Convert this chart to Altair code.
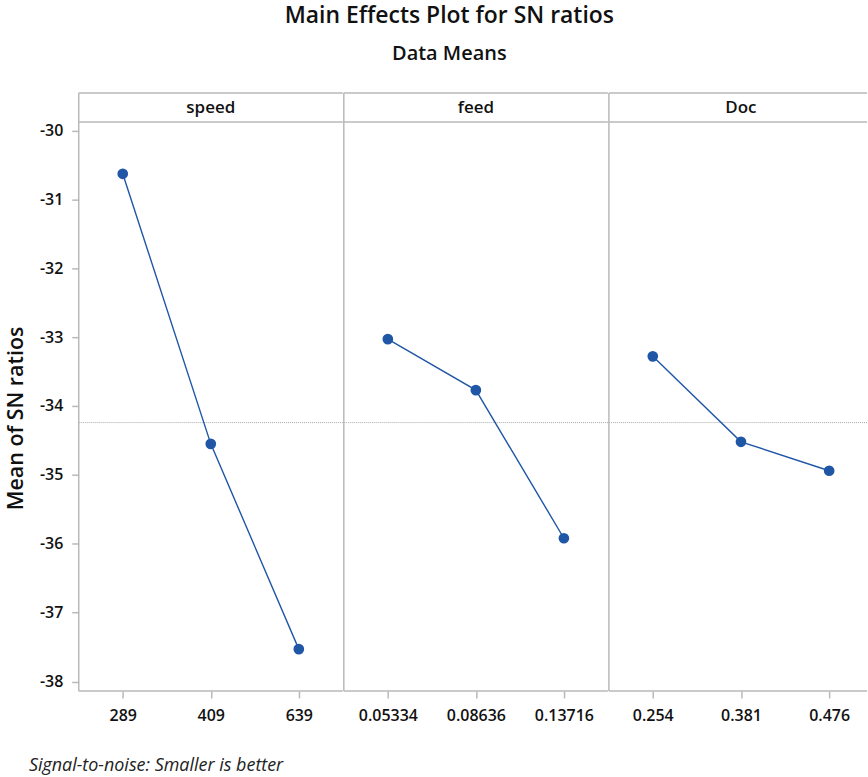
import altair as alt
import pandas as pd

# Factor names and their levels (tick labels), in plotting order
factors = ["speed", "feed", "Doc"]
speed_levels = ["289", "409", "639"]
feed_levels = ["0.05334", "0.08636", "0.13716"]
doc_levels = ["0.254", "0.381", "0.476"]

# Mean S/N ratio at each level
speed_sn = [-30.63, -34.55, -37.53]
feed_sn = [-33.03, -33.77, -35.92]
doc_sn = [-33.28, -34.52, -34.94]

levels_by_factor = {"speed": speed_levels, "feed": feed_levels, "Doc": doc_levels}
sn_by_factor = {"speed": speed_sn, "feed": feed_sn, "Doc": doc_sn}

rows = []
for f in factors:
    for i, (lvl, v) in enumerate(zip(levels_by_factor[f], sn_by_factor[f])):
        rows.append({"factor": f, "level": lvl, "order": i, "sn": v})
df = pd.DataFrame(rows)
grand_mean = df["sn"].mean()

BLUE = "#1f56a5"
GRID = "#b9b9b9"
FONT = "Open Sans"
H = 600
STRIP = 29
Y_MIN, Y_MAX = -38.137, -29.457

# panel widths and point-scale padding/alignment for each panel
widths = {"speed": 265, "feed": 265, "Doc": 259}
x_scales = {
    "speed": alt.Scale(padding=0.5),
    "feed": alt.Scale(padding=0.5),
    "Doc": alt.Scale(padding=0.4633, align=0.537),
}


def vrule(x, w):
    return alt.Chart(pd.DataFrame({"a": [0]})).mark_rule(
        color=GRID, strokeWidth=1.5).encode(
        x=alt.value(x), y=alt.value(0), y2=alt.value(H))


def hrule(y, w):
    return alt.Chart(pd.DataFrame({"a": [0]})).mark_rule(
        color=GRID, strokeWidth=1.5).encode(
        x=alt.value(0), x2=alt.value(w), y=alt.value(y))


def panel(factor, first):
    W = widths[factor]
    d = df[df["factor"] == factor]
    if first:
        yaxis = alt.Axis(values=[-30, -31, -32, -33, -34, -35, -36, -37, -38],
                         labelExpr="datum.value < 0 ? '-' + format(-datum.value, 'd') : format(datum.value, 'd')",
                         title="Mean of SN ratios", titleFontSize=21.5,
                         titleFontWeight=600, titleFont=FONT, titleColor="#111",
                         titleX=-62, titleY=326, titleBaseline="middle",
                         labelPadding=9)
    else:
        yaxis = None
    y = alt.Y("sn:Q", scale=alt.Scale(domain=[Y_MIN, Y_MAX], nice=False, zero=False),
              axis=yaxis)
    x = alt.X("level:N", sort=levels_by_factor[factor], title=None,
              scale=x_scales[factor],
              axis=alt.Axis(labelAngle=0, labelPadding=10))

    base = alt.Chart(d)
    line = base.mark_line(color=BLUE, strokeWidth=1.4).encode(x=x, y=y)
    pts = base.mark_point(filled=True, shape="circle", size=115, color=BLUE,
                          opacity=1).encode(x=x, y=y)
    mean = alt.Chart(pd.DataFrame({"sn": [grand_mean]})).mark_rule(
        color="#a8a8a8", strokeWidth=1, strokeDash=[1, 1]).encode(y=y)
    header = alt.Chart(pd.DataFrame({"factor": [factor]})).mark_text(
        font=FONT, fontSize=17, fontWeight=600, color="#111",
        baseline="middle", align="center").encode(
        text="factor:N", x=alt.value(W / 2 if factor != "Doc" else 132.5),
        y=alt.value(STRIP / 2 + 0.5))
    # panel frame: left edge, top, strip divider, bottom
    layers = [mean, vrule(0, W), hrule(0, W), hrule(STRIP, W), hrule(H, W), header, line, pts]
    if first:
        foot = alt.Chart(pd.DataFrame({"t": ["Signal-to-noise: Smaller is better"]})).mark_text(
            font=FONT, fontSize=18, fontStyle="italic", color="#222",
            align="left", baseline="middle").encode(
            text="t:N", x=alt.value(-50), y=alt.value(H + 75))
        layers.append(foot)
    return alt.layer(*layers).properties(width=W, height=H)


chart = alt.hconcat(*[panel(f, i == 0) for i, f in enumerate(factors)], spacing=-1.5).properties(
    title=alt.TitleParams("Main Effects Plot for SN ratios", subtitle="Data Means",
                          font=FONT, fontSize=23, fontWeight=600, color="#111",
                          subtitleFont=FONT, subtitleFontSize=20, subtitleFontWeight=600,
                          subtitleColor="#111", subtitlePadding=16, anchor="middle",
                          offset=28.5, dx=12.5),
    padding={"left": 6, "top": 3, "right": 0, "bottom": 0},
).configure_view(stroke=None).configure_axis(
    domain=False, grid=False, tickColor=GRID, tickSize=7, tickWidth=1.5,
    labelFont=FONT, labelFontSize=16, labelFontWeight=600, labelColor="#111"
)

chart.save("out.html", embed_options={"renderer": "svg", "actions": False})
